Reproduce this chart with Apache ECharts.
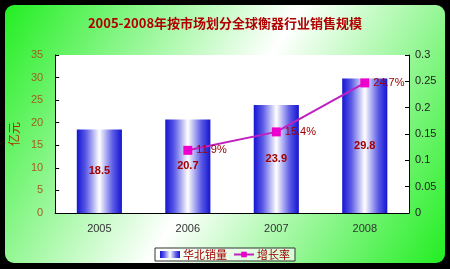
<!DOCTYPE html>
<html><head><meta charset="utf-8">
<script src="https://cdn.jsdelivr.net/npm/echarts@6/dist/echarts.min.js"></script>
<style>html,body{margin:0;padding:0;background:#000;}#c{width:450px;height:269px;}</style>
</head><body><div id="c"></div>
<script>
var categories = ['2005', '2006', '2007', '2008'];
var salesValues = [18.5, 20.7, 23.9, 29.8];
var growthValues = [null, 0.119, 0.154, 0.247];
var growthLabels = ['', '11.9%', '15.4%', '24.7%'];
var leftTicks = [0, 35, 5];
var rightTicks = [0, 0.3, 0.05];

var chart = echarts.init(document.getElementById('c'), null, {renderer: 'canvas'});
var barGrad = new echarts.graphic.LinearGradient(0, 0, 1, 0, [
  {offset: 0, color: '#1414d2'},
  {offset: 0.2, color: '#5a5ae6'},
  {offset: 0.5, color: '#ffffff'},
  {offset: 0.8, color: '#5a5ae6'},
  {offset: 1, color: '#1414d2'}
]);
var font = '"Liberation Sans", Arial, sans-serif';
var cjk = '"Noto Sans CJK SC", sans-serif';
chart.setOption({
  animation: false,
  backgroundColor: '#000',
  graphic: [{
    type: 'rect', z: -10, silent: true,
    shape: {x: 5, y: 5, width: 440, height: 258, r: 9},
    style: {fill: new echarts.graphic.LinearGradient(0, 0, 1, 1, [
      {offset: 0, color: '#22ee22'},
      {offset: 0.5, color: '#ffffff'},
      {offset: 1, color: '#22ee22'}
    ])}
  }],
  title: {
    text: '2005-2008年按市场划分全球衡器行业销售规模',
    left: 'center', top: 12,
    textStyle: {color: '#b00000', fontSize: 13, fontWeight: 'bold', fontFamily: cjk}
  },
  grid: {left: 53, right: 41, top: 55, bottom: 56, show: true, backgroundColor: '#ffffff', borderWidth: 0},
  legend: {
    bottom: 8, left: 'center',
    itemWidth: 20, itemHeight: 7, itemGap: 6,
    borderColor: '#333', borderWidth: 1, padding: [1, 5, 1, 5],
    backgroundColor: 'rgba(255,255,255,0.6)',
    textStyle: {color: '#a00000', fontSize: 11, fontFamily: cjk, padding: [0, 0, 0, -2]},
    data: [{name: '华北销量', icon: 'rect'}, {name: '增长率'}]
  },
  xAxis: {
    type: 'category', data: categories,
    axisLine: {lineStyle: {color: '#000'}},
    axisTick: {inside: true, length: 3, lineStyle: {color: '#000'}},
    axisLabel: {color: '#333', fontSize: 11, fontFamily: font, margin: 10}
  },
  yAxis: [{
    type: 'value', min: leftTicks[0], max: leftTicks[1], interval: leftTicks[2],
    name: '亿元', nameLocation: 'middle', nameGap: 27, nameRotate: 90,
    nameTextStyle: {color: '#b03000', fontSize: 12, fontFamily: cjk},
    axisLine: {show: true, lineStyle: {color: '#000'}},
    axisTick: {show: true, inside: true, length: 4, lineStyle: {color: '#000'}},
    axisLabel: {color: '#a06020', fontSize: 11, fontFamily: font, margin: 12},
    splitLine: {show: false}
  }, {
    type: 'value', min: rightTicks[0], max: rightTicks[1], interval: rightTicks[2],
    axisLine: {show: true, lineStyle: {color: '#000'}},
    axisTick: {show: true, inside: true, length: 4, lineStyle: {color: '#000'}},
    axisLabel: {color: '#222', fontSize: 11, fontFamily: font, margin: 6},
    splitLine: {show: false}
  }],
  series: [{
    name: '华北销量', type: 'bar', data: salesValues, barWidth: '51%',
    itemStyle: {color: barGrad},
    label: {show: true, position: 'inside', color: '#a00000', fontWeight: 'bold', fontSize: 11, fontFamily: font}
  }, {
    name: '增长率', type: 'line', yAxisIndex: 1, data: growthValues,
    symbol: 'rect', symbolSize: 9, connectNulls: false,
    lineStyle: {color: '#c020c0', width: 2},
    itemStyle: {color: '#ee00cc'},
    label: {show: true, position: 'right', distance: 4, color: '#a00000', fontSize: 11, fontFamily: font,
      formatter: function (p) { return growthLabels[p.dataIndex]; }}
  }]
});
</script></body></html>
